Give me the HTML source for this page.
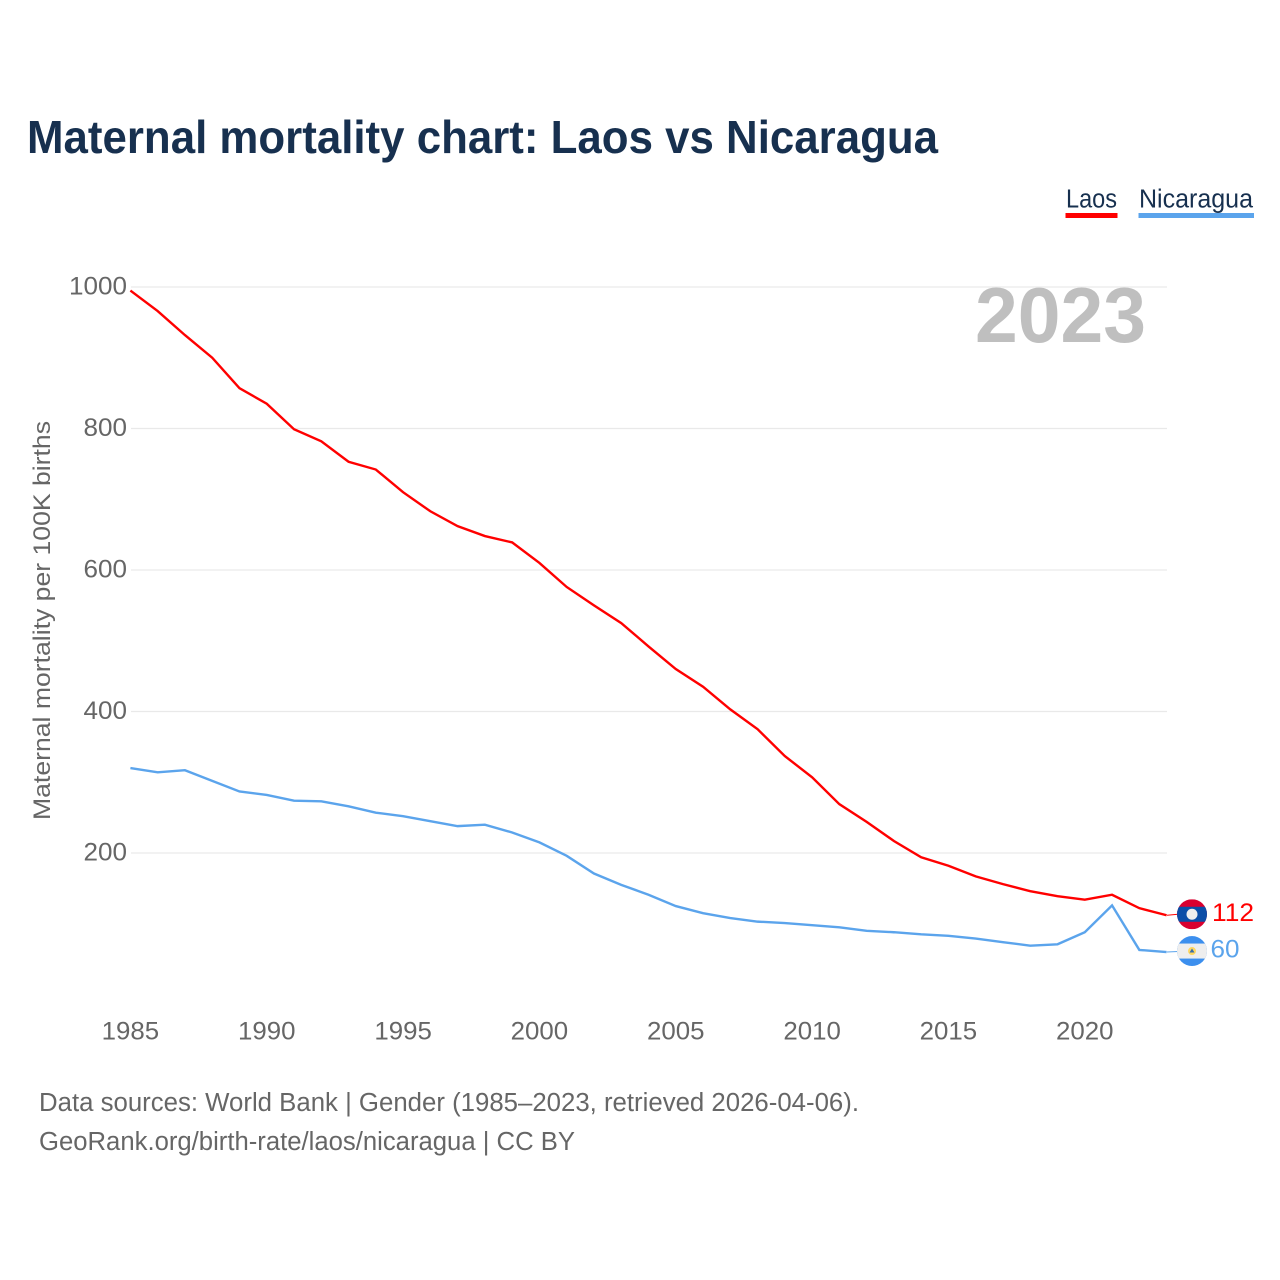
<!DOCTYPE html>
<html lang="en">
<head>
<meta charset="utf-8">
<title>Maternal mortality chart: Laos vs Nicaragua</title>
<style>
html,body{margin:0;padding:0;background:#fff;width:1280px;height:1280px;overflow:hidden}
svg{display:block}
text{font-family:"Liberation Sans",sans-serif}
</style>
</head>
<body>
<svg id="chart" xmlns="http://www.w3.org/2000/svg" width="1280" height="1280" viewBox="0 0 1280 1280">
  <defs>
    <clipPath id="clip-laos"><circle cx="0" cy="0" r="15"/></clipPath>
    <clipPath id="clip-nic"><circle cx="0" cy="0" r="15"/></clipPath>
  </defs>
  <text x="27" y="153" font-size="46" font-weight="700" fill="#17304f" textLength="911" lengthAdjust="spacingAndGlyphs">Maternal mortality chart: Laos vs Nicaragua</text>

  <g>
    <text x="1066" y="207.5" font-size="25.5" fill="#17304f" textLength="51" lengthAdjust="spacingAndGlyphs">Laos</text>
    <rect x="1065.5" y="213" width="52" height="5" fill="#ff0000"/>
  </g>
  <g>
    <text x="1139" y="207.5" font-size="25.5" fill="#17304f" textLength="114" lengthAdjust="spacingAndGlyphs">Nicaragua</text>
    <rect x="1138.5" y="213" width="115.5" height="5" fill="#5ba4ec"/>
  </g>

  <g id="grid"></g>
  <g id="yticks"></g>
  <g id="xticks"></g>

  <text transform="translate(50,820) rotate(-90)" x="0" y="0" font-size="24" fill="#666666" textLength="399" lengthAdjust="spacingAndGlyphs">Maternal mortality per 100K births</text>

  <text x="975" y="342" font-size="78" font-weight="700" fill="#bfbfbf" textLength="171" lengthAdjust="spacingAndGlyphs">2023</text>

  <g id="series"></g>

  <g id="flag-laos">
    <g clip-path="url(#clip-laos)">
      <rect x="-15" y="-15" width="30" height="30" fill="#d9002f"/>
      <rect x="-15" y="-7.5" width="30" height="15" fill="#0b4ea8"/>
      <circle cx="0" cy="0" r="5.5" fill="#eeeeee"/>
    </g>
  </g>
  <g id="flag-nicaragua">
    <g clip-path="url(#clip-nic)">
      <rect x="-15" y="-15" width="30" height="30" fill="#3c8fee"/>
      <rect x="-15" y="-7.5" width="30" height="15" fill="#eeeeee"/>
      <circle cx="0" cy="0" r="4" fill="#ffd862"/>
      <polygon points="-2.5,1.5 2.5,1.5 0,-2.5" fill="#3a6ea8"/>
    </g>
  </g>
  <text id="label-laos" font-size="25" fill="#ff0000" textLength="42" lengthAdjust="spacingAndGlyphs"></text>
  <text id="label-nic" font-size="25" fill="#5ba4ec" textLength="29" lengthAdjust="spacingAndGlyphs"></text>

  <text x="39" y="1111" font-size="25.5" fill="#666666" textLength="820" lengthAdjust="spacingAndGlyphs">Data sources: World Bank | Gender (1985–2023, retrieved 2026-04-06).</text>
  <text x="39" y="1150" font-size="25.5" fill="#666666" textLength="536" lengthAdjust="spacingAndGlyphs">GeoRank.org/birth-rate/laos/nicaragua | CC BY</text>
</svg>
<script>
const years = [1985,1986,1987,1988,1989,1990,1991,1992,1993,1994,1995,1996,1997,1998,1999,2000,2001,2002,2003,2004,2005,2006,2007,2008,2009,2010,2011,2012,2013,2014,2015,2016,2017,2018,2019,2020,2021,2022,2023];
const laosValues = [995,966,932,900,857,835,799,782,753,742,710,683,662,648,639,610,576,550,525,492,460,435,403,375,337,307,269,244,217,194,182,167,156,146,139,134,141,122,112];
const nicaraguaValues = [320,314,317,302,287,282,274,273,266,257,252,245,238,240,229,215,196,171,155,141,125,115,108,103,101,98,95,90,88,85,83,79,74,69,71,88,126,63,60];
const yTickValues = [200,400,600,800,1000];
const xTickValues = [1985,1990,1995,2000,2005,2010,2015,2020];

const NS = 'http://www.w3.org/2000/svg';
function xScale(year){ return 130.4 + (year - 1985) * (1166.6 - 130.4) / 38; }
function yScale(v){ return 994.5 - v * 0.7075; }

const grid = document.getElementById('grid');
const yticks = document.getElementById('yticks');
const xticks = document.getElementById('xticks');
const series = document.getElementById('series');

yTickValues.forEach(function(v){
  const line = document.createElementNS(NS, 'line');
  
  
  line.setAttribute('x1', 131);
  line.setAttribute('x2', 1167);
  line.setAttribute('y1', yScale(v));
  line.setAttribute('y2', yScale(v));
  line.setAttribute('stroke', '#e9e9e9');
  line.setAttribute('stroke-width', '1.2');
  grid.appendChild(line);

  const t = document.createElementNS(NS, 'text');
  
  
  t.setAttribute('x', 127);
  t.setAttribute('y', yScale(v) + 7.5);
  t.setAttribute('text-anchor', 'end');
  t.setAttribute('font-size', '25');
  t.setAttribute('fill', '#666666');
  t.setAttribute('textLength', String(v).length * 14.5);
  t.setAttribute('lengthAdjust', 'spacingAndGlyphs');
  t.textContent = String(v);
  yticks.appendChild(t);
});

xTickValues.forEach(function(year){
  const t = document.createElementNS(NS, 'text');
  
  
  t.setAttribute('x', xScale(year));
  t.setAttribute('y', 1039.5);
  t.setAttribute('text-anchor', 'middle');
  t.setAttribute('font-size', '25');
  t.setAttribute('fill', '#666666');
  t.setAttribute('textLength', '57.5');
  t.setAttribute('lengthAdjust', 'spacingAndGlyphs');
  t.textContent = String(year);
  xticks.appendChild(t);
});

function toPoints(values){
  return values.map(function(v, i){ return xScale(years[i]).toFixed(2) + ',' + yScale(v).toFixed(2); }).join(' ');
}

const nicLine = document.createElementNS(NS, 'polyline');


nicLine.setAttribute('points', toPoints(nicaraguaValues));
nicLine.setAttribute('fill', 'none');
nicLine.setAttribute('stroke', '#5ba4ec');
nicLine.setAttribute('stroke-width', '2.4');
series.appendChild(nicLine);

const laosLine = document.createElementNS(NS, 'polyline');


laosLine.setAttribute('points', toPoints(laosValues));
laosLine.setAttribute('fill', 'none');
laosLine.setAttribute('stroke', '#ff0000');
laosLine.setAttribute('stroke-width', '2.4');
series.appendChild(laosLine);

const laosEnd = laosValues[laosValues.length - 1];
const nicEnd = nicaraguaValues[nicaraguaValues.length - 1];

const laosLeader = document.createElementNS(NS, 'line');


laosLeader.setAttribute('x1', 1167);
laosLeader.setAttribute('x2', 1178);
laosLeader.setAttribute('y1', yScale(laosEnd));
laosLeader.setAttribute('y2', yScale(laosEnd) - 1);
laosLeader.setAttribute('stroke', '#ff0000');
laosLeader.setAttribute('stroke-width', '1');
series.appendChild(laosLeader);

const nicLeader = document.createElementNS(NS, 'line');


nicLeader.setAttribute('x1', 1167);
nicLeader.setAttribute('x2', 1178);
nicLeader.setAttribute('y1', yScale(nicEnd));
nicLeader.setAttribute('y2', yScale(nicEnd) - 0.5);
nicLeader.setAttribute('stroke', '#5ba4ec');
nicLeader.setAttribute('stroke-width', '1');
series.appendChild(nicLeader);

document.getElementById('flag-laos').setAttribute('transform', 'translate(1192,' + (yScale(laosEnd) - 1) + ')');
document.getElementById('flag-nicaragua').setAttribute('transform', 'translate(1192,' + (yScale(nicEnd) - 1) + ')');

const laosLabel = document.getElementById('label-laos');
laosLabel.setAttribute('x', 1212);
laosLabel.setAttribute('y', yScale(laosEnd) + 5.5);
laosLabel.textContent = String(laosEnd);

const nicLabel = document.getElementById('label-nic');
nicLabel.setAttribute('x', 1210.5);
nicLabel.setAttribute('y', yScale(nicEnd) + 5.5);
nicLabel.textContent = String(nicEnd);
</script>
</body>
</html>
